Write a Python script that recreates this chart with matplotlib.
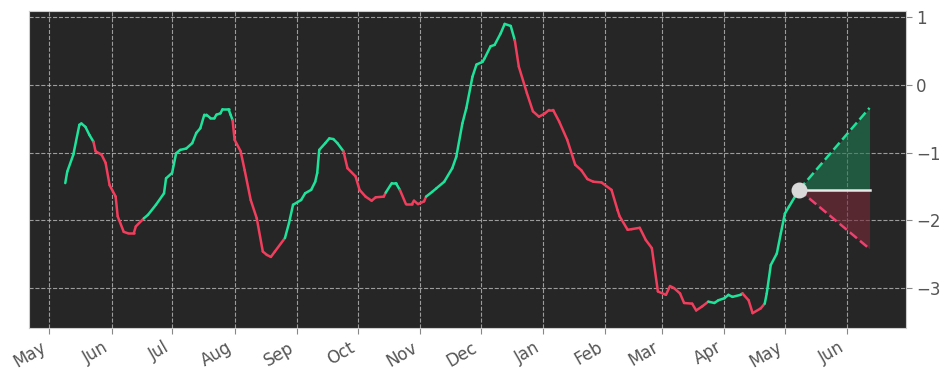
import numpy as np
import pandas as pd
import matplotlib
matplotlib.use("Agg")
import matplotlib.pyplot as plt
import matplotlib.dates as mdates
from matplotlib.collections import LineCollection

# --- dados ---
dates = [
    "2022-05-09", "2022-05-10", "2022-05-13", "2022-05-16", "2022-05-17", "2022-05-19",
    "2022-05-21", "2022-05-23", "2022-05-24", "2022-05-27", "2022-05-29", "2022-05-31",
    "2022-06-03", "2022-06-04", "2022-06-07", "2022-06-09", "2022-06-12", "2022-06-13",
    "2022-06-17", "2022-06-19", "2022-06-23", "2022-06-27", "2022-06-28", "2022-07-01",
    "2022-07-03", "2022-07-05", "2022-07-08", "2022-07-11", "2022-07-13", "2022-07-15",
    "2022-07-17", "2022-07-18", "2022-07-20", "2022-07-22", "2022-07-23", "2022-07-25",
    "2022-07-26", "2022-07-29", "2022-07-30", "2022-07-31", "2022-08-01", "2022-08-04",
    "2022-08-06", "2022-08-09", "2022-08-12", "2022-08-15", "2022-08-17", "2022-08-19",
    "2022-08-21", "2022-08-26", "2022-08-28", "2022-08-30", "2022-09-03", "2022-09-05",
    "2022-09-08", "2022-09-10", "2022-09-11", "2022-09-12", "2022-09-15", "2022-09-17",
    "2022-09-19", "2022-09-21", "2022-09-24", "2022-09-26", "2022-09-30", "2022-10-02",
    "2022-10-05", "2022-10-08", "2022-10-10", "2022-10-14", "2022-10-15", "2022-10-18",
    "2022-10-20", "2022-10-22", "2022-10-25", "2022-10-28", "2022-10-29", "2022-10-31",
    "2022-11-03", "2022-11-04", "2022-11-07", "2022-11-09", "2022-11-13", "2022-11-17",
    "2022-11-19", "2022-11-22", "2022-11-24", "2022-11-27", "2022-11-29", "2022-12-02",
    "2022-12-03", "2022-12-06", "2022-12-08", "2022-12-11", "2022-12-13", "2022-12-16",
    "2022-12-18", "2022-12-20", "2022-12-24", "2022-12-27", "2022-12-30", "2023-01-02",
    "2023-01-04", "2023-01-06", "2023-01-09", "2023-01-13", "2023-01-17", "2023-01-20",
    "2023-01-23", "2023-01-26", "2023-01-30", "2023-02-04", "2023-02-07", "2023-02-08",
    "2023-02-12", "2023-02-14", "2023-02-18", "2023-02-21", "2023-02-24", "2023-02-27",
    "2023-03-03", "2023-03-05", "2023-03-07", "2023-03-10", "2023-03-12", "2023-03-16",
    "2023-03-18", "2023-03-21", "2023-03-24", "2023-03-27", "2023-03-29", "2023-04-01",
    "2023-04-03", "2023-04-05", "2023-04-09", "2023-04-10", "2023-04-13", "2023-04-15",
    "2023-04-19", "2023-04-21", "2023-04-22", "2023-04-24", "2023-04-27", "2023-04-29",
    "2023-05-01", "2023-05-03", "2023-05-06", "2023-05-08",
]
values = [
    -1.45, -1.28, -1.03, -0.59, -0.57, -0.62,
    -0.74, -0.84, -0.98, -1.03, -1.15, -1.48,
    -1.65, -1.94, -2.17, -2.19, -2.19, -2.09,
    -1.97, -1.92, -1.77, -1.60, -1.38, -1.30,
    -1.01, -0.96, -0.94, -0.86, -0.71, -0.64,
    -0.44, -0.44, -0.49, -0.49, -0.44, -0.42,
    -0.36, -0.36, -0.44, -0.52, -0.81, -0.98,
    -1.26, -1.70, -1.97, -2.46, -2.51, -2.54,
    -2.46, -2.26, -2.04, -1.77, -1.70, -1.60,
    -1.55, -1.43, -1.30, -0.96, -0.86, -0.79,
    -0.80, -0.86, -0.98, -1.23, -1.35, -1.55,
    -1.65, -1.71, -1.66, -1.65, -1.59, -1.45,
    -1.45, -1.55, -1.76, -1.76, -1.71, -1.76,
    -1.72, -1.65, -1.58, -1.53, -1.43, -1.23,
    -1.06, -0.57, -0.34, 0.12, 0.30, 0.34,
    0.39, 0.57, 0.59, 0.76, 0.90, 0.87,
    0.66, 0.27, -0.12, -0.39, -0.47, -0.42,
    -0.37, -0.37, -0.54, -0.81, -1.18, -1.26,
    -1.39, -1.43, -1.44, -1.55, -1.85, -1.94,
    -2.14, -2.13, -2.11, -2.29, -2.41, -3.05,
    -3.10, -2.97, -3.00, -3.08, -3.22, -3.23,
    -3.33, -3.27, -3.20, -3.22, -3.18, -3.15,
    -3.10, -3.13, -3.10, -3.08, -3.18, -3.37,
    -3.30, -3.23, -3.08, -2.66, -2.49, -2.19,
    -1.90, -1.80, -1.65, -1.55,
]

# datas em que a cor da tendência muda (começa em alta)
trend_switches = [
    "2022-05-23", "2022-06-17", "2022-07-31", "2022-08-26", "2022-09-24", "2022-10-15",
    "2022-10-22", "2022-11-04", "2022-12-18", "2023-03-24", "2023-04-10", "2023-04-21",
]

# projeção
proj_end = "2023-06-12"
proj_upper = -0.34
proj_lower = -2.42

GREEN = "#1fe39a"
RED = "#f03e5c"

df = pd.DataFrame({"date": pd.to_datetime(dates), "value": values})
switches = pd.to_datetime(trend_switches)

# cor de cada segmento: alterna a cada mudança de tendência
n_switch = np.searchsorted(switches.values, df["date"].values[:-1], side="right")
seg_colors = [GREEN if k % 2 == 0 else RED for k in n_switch]

x = mdates.date2num(df["date"])
y = df["value"].values
segments = np.stack([np.column_stack([x[:-1], y[:-1]]), np.column_stack([x[1:], y[1:]])], axis=1)

fig = plt.figure(figsize=(9.5, 3.81), dpi=100)
ax = fig.add_axes([0.0305, 0.139, 0.923, 0.832])
ax.set_facecolor("#262626")

ax.add_collection(LineCollection(segments, colors=seg_colors, linewidth=1.8, capstyle="round", zorder=3))

# cone de projeção
x0, y0 = x[-1], y[-1]
x1 = mdates.date2num(pd.Timestamp(proj_end))
ax.fill_between([x0, x1], [y0, y0], [y0, proj_upper], color="#1f7a52", alpha=0.6, linewidth=0, zorder=2)
ax.fill_between([x0, x1], [y0, y0], [y0, proj_lower], color="#7a2a3a", alpha=0.6, linewidth=0, zorder=2)
ax.plot([x0, x1], [y0, proj_upper], linestyle="--", color=GREEN, linewidth=1.8, zorder=3)
ax.plot([x0, x1], [y0, proj_lower], linestyle="--", color="#f04070", linewidth=1.8, zorder=3)
ax.plot([x0, x1], [y0, y0], color="#e8e8e8", linewidth=1.8, zorder=3)
ax.scatter([x0], [y0], s=110, color="#d9d9d9", zorder=5)

ax.set_xlim(mdates.date2num(pd.Timestamp("2022-04-21")), mdates.date2num(pd.Timestamp("2023-06-30")))
ax.set_ylim(-3.59, 1.09)

ax.xaxis.set_major_locator(mdates.MonthLocator())
ax.xaxis.set_major_formatter(mdates.DateFormatter("%b"))
ax.yaxis.tick_right()
ax.set_yticks([1, 0, -1, -2, -3])
ax.set_yticklabels(["1", "0", "\u22121", "\u22122", "\u22123"])

ax.grid(True, linestyle="--", color="#bbbbbb", linewidth=0.8, alpha=0.8)
for s in ax.spines.values():
    s.set_color("#cccccc")
ax.tick_params(colors="#555555", labelsize=12, length=4)
ax.tick_params(axis="both", color="#888888")
plt.setp(ax.get_xticklabels(), rotation=30, ha="right")

fig.savefig("out.png", dpi=100, facecolor="white")
